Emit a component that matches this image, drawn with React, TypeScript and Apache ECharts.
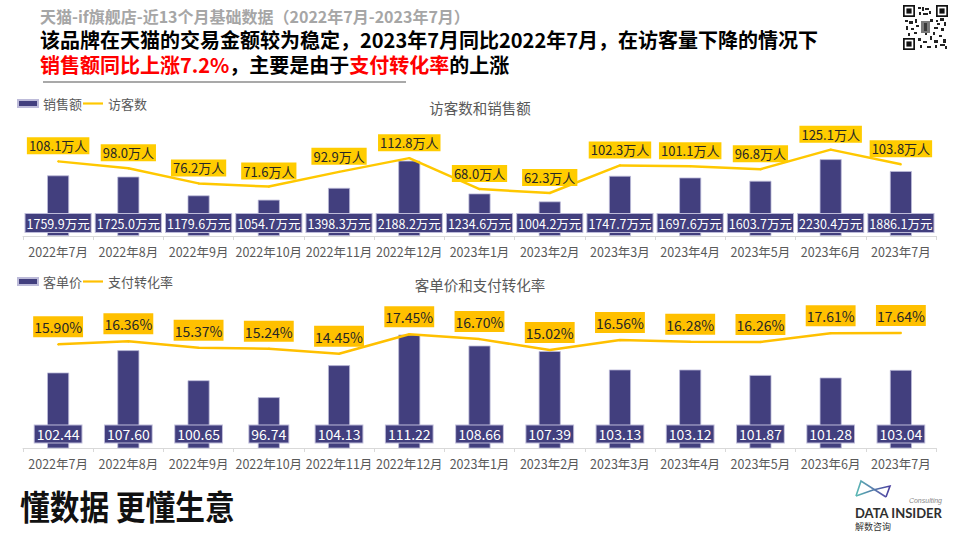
import React, { useEffect, useRef } from "react";
import * as echarts from "echarts";

const months = [
  "2022年7月", "2022年8月", "2022年9月", "2022年10月", "2022年11月", "2022年12月",
  "2023年1月", "2023年2月", "2023年3月", "2023年4月", "2023年5月", "2023年6月", "2023年7月",
];
const sales = [1759.9, 1725.0, 1179.6, 1054.7, 1398.3, 2188.2, 1234.6, 1004.2, 1747.7, 1697.6, 1603.7, 2230.4, 1886.1];
const visitors = [108.1, 98.0, 76.2, 71.6, 92.9, 112.8, 68.0, 62.3, 102.3, 101.1, 96.8, 125.1, 103.8];
const unitPrice = [102.44, 107.6, 100.65, 96.74, 104.13, 111.22, 108.66, 107.39, 103.13, 103.12, 101.87, 101.28, 103.04];
const convRate = [15.9, 16.36, 15.37, 15.24, 14.45, 17.45, 16.7, 15.02, 16.56, 16.28, 16.26, 17.61, 17.64];

const FONT = '"Noto Sans CJK SC", "Noto Sans", sans-serif';
const BAR = "#423f7e";
const BAR_EDGE = "#bdbbd9";
const LINE_ICON = "path://M0,0 L24,0 L24,2.6 L0,2.6 Z";

function xAxis(gridIndex: number) {
  return {
    type: "category",
    gridIndex,
    data: months,
    axisLine: { lineStyle: { color: "#d9d9d9", width: 1 } },
    axisTick: { show: true, length: 4, lineStyle: { color: "#d9d9d9" } },
    axisLabel: { color: "#595959", fontSize: 12.5, margin: 9, fontFamily: FONT, interval: 0 },
  };
}

function hiddenY(gridIndex: number, min: number, max: number) {
  return { type: "value", gridIndex, min, max, show: false, splitLine: { show: false } };
}

// QR code-like decoration (finder patterns + filler)
const qrBlocks: number[][] = [
  [918, 7, 3, 2], [922, 7, 2, 4], [925, 8, 4, 2], [919, 12, 2, 3], [923, 13, 5, 2], [929, 11, 2, 3],
  [905, 20, 3, 2], [909, 21, 4, 3], [915, 19, 2, 4], [930, 19, 3, 3], [936, 20, 2, 2],
  [940, 18, 4, 3], [944, 22, 2, 4], [906, 26, 2, 4], [911, 28, 3, 2], [934, 27, 4, 2],
  [941, 28, 3, 3], [918, 38, 3, 3], [923, 41, 4, 2], [930, 36, 2, 4], [934, 40, 4, 3],
  [939, 35, 3, 2], [943, 39, 3, 4], [920, 45, 2, 3], [927, 46, 4, 2], [935, 45, 2, 3],
  [940, 44, 5, 2], [945, 46, 2, 3], [925, 33, 2, 2], [914, 32, 3, 2], [908, 33, 2, 3],
  [916, 25, 3, 2], [933, 32, 2, 3], [937, 23, 3, 2],
];

function finder(x: number, y: number) {
  return [
    { type: "rect", shape: { x, y, width: 12, height: 12 }, style: { fill: "#111" } },
    { type: "rect", shape: { x: x + 1.7, y: y + 1.7, width: 8.6, height: 8.6 }, style: { fill: "#fff" } },
    { type: "rect", shape: { x: x + 3.4, y: y + 3.4, width: 5.2, height: 5.2 }, style: { fill: "#111" } },
  ];
}

export default function App() {
  const ref = useRef<HTMLDivElement>(null);
  useEffect(() => {
    if (!ref.current) return;
    const chart = echarts.init(ref.current, null, { renderer: "svg" });
    const option: any = {
      animation: false,
      backgroundColor: "#ffffff",
      textStyle: { fontFamily: FONT },
      title: [
        {
          text: "访客数和销售额",
          left: "center",
          top: 100,
          padding: 0,
          textStyle: { fontSize: 14.5, color: "#595959", fontWeight: "normal", fontFamily: FONT },
        },
        {
          text: "客单价和支付转化率",
          left: "center",
          top: 277,
          padding: 0,
          textStyle: { fontSize: 14.5, color: "#595959", fontWeight: "normal", fontFamily: FONT },
        },
      ],
      legend: [
        {
          left: 17,
          top: 97,
          padding: 0,
          itemWidth: 20,
          itemHeight: 7,
          itemGap: 1,
          textStyle: { fontSize: 13, color: "#595959", fontFamily: FONT },
          data: [
            { name: "销售额", icon: "rect" },
            { name: "访客数", icon: LINE_ICON, itemStyle: { color: "#ffc800" } },
          ],
        },
        {
          left: 17,
          top: 275,
          padding: 0,
          itemWidth: 20,
          itemHeight: 7,
          itemGap: 1,
          textStyle: { fontSize: 13, color: "#595959", fontFamily: FONT },
          data: [
            { name: "客单价", icon: "rect" },
            { name: "支付转化率", icon: LINE_ICON, itemStyle: { color: "#ffc000" } },
          ],
        },
      ],
      grid: [
        { left: 23, right: 24, top: 100, height: 136 },
        { left: 23, right: 24, top: 300, height: 148 },
      ],
      xAxis: [xAxis(0), xAxis(1)],
      yAxis: [hiddenY(0, 0, 3950), hiddenY(0, 0, 197), hiddenY(1, 85, 119.2), hiddenY(1, 0, 22.7)],
      series: [
        {
          name: "销售额",
          type: "bar",
          xAxisIndex: 0,
          yAxisIndex: 0,
          data: sales,
          barWidth: 22,
          itemStyle: { color: BAR, borderColor: BAR_EDGE, borderWidth: 0.8 },
          label: {
            show: true,
            position: "insideBottom",
            distance: 4,
            formatter: (p: any) => sales[p.dataIndex].toFixed(1) + "万元",
            color: "#ffffff",
            fontSize: 12.5,
            lineHeight: 15,
            fontFamily: FONT,
            backgroundColor: BAR,
            borderColor: BAR_EDGE,
            borderWidth: 1,
            padding: [2, 1, 1, 1],
          },
        },
        {
          name: "访客数",
          type: "line",
          xAxisIndex: 0,
          yAxisIndex: 1,
          data: visitors,
          symbol: "circle",
          symbolSize: 2,
          showSymbol: true,
          z: 3,
          lineStyle: { color: "#ffc800", width: 2.5 },
          itemStyle: { color: "#ffc800" },
          label: {
            show: true,
            position: "top",
            distance: 6,
            formatter: (p: any) => visitors[p.dataIndex].toFixed(1) + "万人",
            color: "#262626",
            fontSize: 13,
            lineHeight: 15,
            fontFamily: FONT,
            backgroundColor: "#ffcc00",
            padding: [1, 2, 1, 2],
          },
        },
        {
          name: "客单价",
          type: "bar",
          xAxisIndex: 1,
          yAxisIndex: 2,
          data: unitPrice,
          barWidth: 22,
          itemStyle: { color: BAR, borderColor: BAR_EDGE, borderWidth: 0.8 },
          label: {
            show: true,
            position: "insideBottom",
            distance: 6,
            formatter: (p: any) => unitPrice[p.dataIndex].toFixed(2),
            color: "#ffffff",
            fontSize: 14,
            lineHeight: 15,
            fontFamily: FONT,
            backgroundColor: BAR,
            borderColor: BAR_EDGE,
            borderWidth: 1,
            padding: [1, 2, 1, 2],
          },
        },
        {
          name: "支付转化率",
          type: "line",
          xAxisIndex: 1,
          yAxisIndex: 3,
          data: convRate,
          symbol: "circle",
          symbolSize: 2,
          showSymbol: true,
          z: 3,
          lineStyle: { color: "#ffc000", width: 2.5 },
          itemStyle: { color: "#ffc000" },
          label: {
            show: true,
            position: "top",
            distance: 6,
            formatter: (p: any) => convRate[p.dataIndex].toFixed(2) + "%",
            color: "#262626",
            fontSize: 14,
            lineHeight: 16,
            fontFamily: FONT,
            backgroundColor: "#ffc000",
            padding: [3, 1, 2, 1],
          },
        },
      ],
      graphic: [
        {
          type: "text",
          x: 40,
          y: 16,
          style: {
            text: "天猫-if旗舰店-近13个月基础数据（2022年7月-2023年7月）",
            font: `bold 16px ${FONT}`,
            fill: "#a6a6a6",
            verticalAlign: "middle",
          },
        },
        {
          type: "text",
          x: 40,
          y: 39,
          style: {
            text: "该品牌在天猫的交易金额较为稳定，2023年7月同比2022年7月，在访客量下降的情况下",
            font: `bold 20px ${FONT}`,
            lineHeight: 20,
            fill: "#000000",
            verticalAlign: "middle",
          },
        },
        {
          type: "text",
          x: 40,
          y: 64.5,
          style: {
            text: "{r|销售额同比上涨7.2%}{b|，主要是由于}{r|支付转化率}{b|的上涨}",
            verticalAlign: "middle",
            lineHeight: 20,
            rich: {
              r: { font: `bold 20px ${FONT}`, lineHeight: 20, fill: "#ff0000", color: "#ff0000" },
              b: { font: `bold 20px ${FONT}`, lineHeight: 20, fill: "#000000", color: "#000000" },
            },
          },
        },
        {
          type: "line",
          shape: { x1: 43, y1: 82, x2: 406, y2: 82 },
          style: { stroke: "#8c8c8c", lineWidth: 1.5 },
        },
        // QR code
        { type: "rect", shape: { x: 903, y: 5, width: 45, height: 45 }, style: { fill: "#ffffff" } },
        ...finder(903, 5),
        ...finder(936, 5),
        ...finder(903, 38),
        ...qrBlocks.map((b) => ({
          type: "rect",
          shape: { x: b[0], y: b[1], width: b[2], height: b[3] },
          style: { fill: "#222" },
        })),
        { type: "rect", shape: { x: 921, y: 21, width: 9, height: 12 }, style: { fill: "#7a7a7a" } },
        { type: "rect", shape: { x: 924, y: 23, width: 3, height: 8 }, style: { fill: "#3a3a3a" } },
        // Slogan
        {
          type: "text",
          x: 20,
          y: 505,
          scaleY: 1.12,
          scaleX: 0.99,
          style: {
            text: "懂数据 更懂生意",
            font: `bold 30px ${FONT}`,
            fill: "#111111",
            verticalAlign: "middle",
          },
        },
        // Logo
        {
          type: "polyline",
          shape: { points: [[856, 496], [861, 481], [886, 497]] },
          style: {
            stroke: {
              type: "linear", x: 0, y: 0, x2: 1, y2: 0,
              colorStops: [{ offset: 0, color: "#5ab9b4" }, { offset: 1, color: "#5a4fa8" }],
            },
            lineWidth: 1.6,
            fill: null,
          },
        },
        {
          type: "polyline",
          shape: { points: [[856, 496], [873, 490], [890, 486], [886, 497]] },
          style: {
            stroke: {
              type: "linear", x: 0, y: 0, x2: 1, y2: 0,
              colorStops: [{ offset: 0, color: "#5ab9b4" }, { offset: 1, color: "#4b3f9f" }],
            },
            lineWidth: 1.6,
            fill: null,
          },
        },
        {
          type: "text",
          x: 942,
          y: 500,
          style: {
            text: "Consulting",
            font: `italic 7px "Liberation Sans"`,
            fill: "#8a8a8a",
            align: "right",
            verticalAlign: "middle",
          },
        },
        {
          type: "text",
          x: 855,
          y: 513,
          style: {
            text: "DATA INSIDER",
            font: `bold 13px Lato`,
            fill: "#2f2f2f",
            verticalAlign: "middle",
          },
        },
        {
          type: "text",
          x: 855,
          y: 526,
          style: {
            text: "解数咨询",
            font: `9px ${FONT}`,
            fill: "#333333",
            verticalAlign: "middle",
          },
        },
      ],
    };
    chart.setOption(option);
    return () => chart.dispose();
  }, []);
  return (
    <div
      ref={ref}
      style={{ position: "absolute", left: 0, top: 0, width: 960, height: 540, background: "#fff" }}
    />
  );
}
